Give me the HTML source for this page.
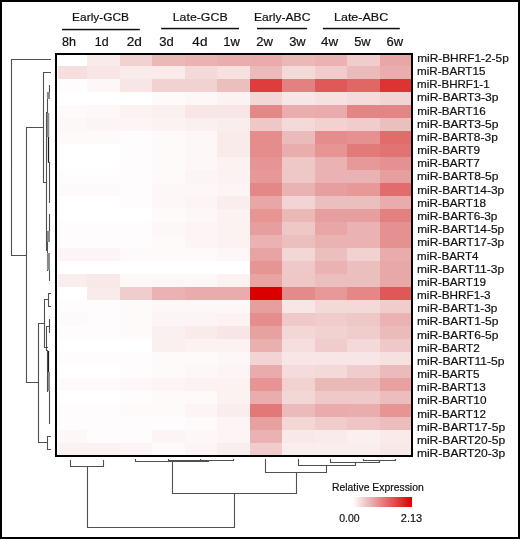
<!DOCTYPE html>
<html><head><meta charset="utf-8"><style>
html,body{margin:0;padding:0;background:#fff}
.f{position:relative;width:520px;height:539px;box-sizing:border-box;border:2px solid #000;background:#fff}
svg{position:absolute;left:-2px;top:-2px;will-change:transform}
text{font-family:"Liberation Sans",sans-serif;fill:#111;stroke:#111;stroke-width:0.2px}
</style></head><body><div class="f">
<svg width="520" height="539" viewBox="0 0 520 539" shape-rendering="crispEdges">
<g><rect x="54.5" y="53" width="33.1" height="14" fill="#ffffff"/><rect x="87.0" y="53" width="33.1" height="14" fill="#faebeb"/><rect x="119.5" y="53" width="33.1" height="14" fill="#f2d1d1"/><rect x="152.0" y="53" width="33.1" height="14" fill="#ebb8b8"/><rect x="184.5" y="53" width="33.1" height="14" fill="#eab2b2"/><rect x="217.0" y="53" width="33.1" height="14" fill="#e9adad"/><rect x="249.5" y="53" width="33.1" height="14" fill="#e9abab"/><rect x="282.0" y="53" width="33.1" height="14" fill="#ebb8b8"/><rect x="314.5" y="53" width="33.1" height="14" fill="#eab2b2"/><rect x="347.0" y="53" width="33.1" height="14" fill="#f0cccc"/><rect x="379.5" y="53" width="33.1" height="14" fill="#e8a6a6"/><rect x="54.5" y="66" width="33.1" height="14" fill="#f6dede"/><rect x="87.0" y="66" width="33.1" height="14" fill="#f8e6e6"/><rect x="119.5" y="66" width="33.1" height="14" fill="#faebeb"/><rect x="152.0" y="66" width="33.1" height="14" fill="#faebeb"/><rect x="184.5" y="66" width="33.1" height="14" fill="#f4d9d9"/><rect x="217.0" y="66" width="33.1" height="14" fill="#f6e0e0"/><rect x="249.5" y="66" width="33.1" height="14" fill="#ebbaba"/><rect x="282.0" y="66" width="33.1" height="14" fill="#f4d9d9"/><rect x="314.5" y="66" width="33.1" height="14" fill="#f0cccc"/><rect x="347.0" y="66" width="33.1" height="14" fill="#ebbaba"/><rect x="379.5" y="66" width="33.1" height="14" fill="#e9adad"/><rect x="54.5" y="79" width="33.1" height="14" fill="#fefcfc"/><rect x="87.0" y="79" width="33.1" height="14" fill="#fdf7f7"/><rect x="119.5" y="79" width="33.1" height="14" fill="#f8e6e6"/><rect x="152.0" y="79" width="33.1" height="14" fill="#f2d1d1"/><rect x="184.5" y="79" width="33.1" height="14" fill="#f2d1d1"/><rect x="217.0" y="79" width="33.1" height="14" fill="#ecbfbf"/><rect x="249.5" y="79" width="33.1" height="14" fill="#df3d3d"/><rect x="282.0" y="79" width="33.1" height="14" fill="#e38080"/><rect x="314.5" y="79" width="33.1" height="14" fill="#e05959"/><rect x="347.0" y="79" width="33.1" height="14" fill="#e16666"/><rect x="379.5" y="79" width="33.1" height="14" fill="#de3333"/><rect x="54.5" y="92" width="33.1" height="14" fill="#ffffff"/><rect x="87.0" y="92" width="33.1" height="14" fill="#ffffff"/><rect x="119.5" y="92" width="33.1" height="14" fill="#ffffff"/><rect x="152.0" y="92" width="33.1" height="14" fill="#fefafa"/><rect x="184.5" y="92" width="33.1" height="14" fill="#fdf7f7"/><rect x="217.0" y="92" width="33.1" height="14" fill="#fcf2f2"/><rect x="249.5" y="92" width="33.1" height="14" fill="#f3d6d6"/><rect x="282.0" y="92" width="33.1" height="14" fill="#f8e6e6"/><rect x="314.5" y="92" width="33.1" height="14" fill="#f6e0e0"/><rect x="347.0" y="92" width="33.1" height="14" fill="#f5dbdb"/><rect x="379.5" y="92" width="33.1" height="14" fill="#f2d4d4"/><rect x="54.5" y="105" width="33.1" height="14" fill="#fefafa"/><rect x="87.0" y="105" width="33.1" height="14" fill="#fdf7f7"/><rect x="119.5" y="105" width="33.1" height="14" fill="#fcf2f2"/><rect x="152.0" y="105" width="33.1" height="14" fill="#fbf0f0"/><rect x="184.5" y="105" width="33.1" height="14" fill="#f8e6e6"/><rect x="217.0" y="105" width="33.1" height="14" fill="#f8e6e6"/><rect x="249.5" y="105" width="33.1" height="14" fill="#e48787"/><rect x="282.0" y="105" width="33.1" height="14" fill="#e9adad"/><rect x="314.5" y="105" width="33.1" height="14" fill="#e9abab"/><rect x="347.0" y="105" width="33.1" height="14" fill="#e48585"/><rect x="379.5" y="105" width="33.1" height="14" fill="#e48585"/><rect x="54.5" y="118" width="33.1" height="14" fill="#fdf7f7"/><rect x="87.0" y="118" width="33.1" height="14" fill="#fdf5f5"/><rect x="119.5" y="118" width="33.1" height="14" fill="#fdf5f5"/><rect x="152.0" y="118" width="33.1" height="14" fill="#fcf2f2"/><rect x="184.5" y="118" width="33.1" height="14" fill="#fbf0f0"/><rect x="217.0" y="118" width="33.1" height="14" fill="#faeded"/><rect x="249.5" y="118" width="33.1" height="14" fill="#eec7c7"/><rect x="282.0" y="118" width="33.1" height="14" fill="#f4d9d9"/><rect x="314.5" y="118" width="33.1" height="14" fill="#f2d1d1"/><rect x="347.0" y="118" width="33.1" height="14" fill="#f0cccc"/><rect x="379.5" y="118" width="33.1" height="14" fill="#ecbfbf"/><rect x="54.5" y="131" width="33.1" height="14" fill="#fefafa"/><rect x="87.0" y="131" width="33.1" height="14" fill="#fefafa"/><rect x="119.5" y="131" width="33.1" height="14" fill="#fefcfc"/><rect x="152.0" y="131" width="33.1" height="14" fill="#fefafa"/><rect x="184.5" y="131" width="33.1" height="14" fill="#fdf7f7"/><rect x="217.0" y="131" width="33.1" height="14" fill="#faebeb"/><rect x="249.5" y="131" width="33.1" height="14" fill="#e58c8c"/><rect x="282.0" y="131" width="33.1" height="14" fill="#ebbaba"/><rect x="314.5" y="131" width="33.1" height="14" fill="#e58c8c"/><rect x="347.0" y="131" width="33.1" height="14" fill="#e69191"/><rect x="379.5" y="131" width="33.1" height="14" fill="#e26b6b"/><rect x="54.5" y="144" width="33.1" height="14" fill="#ffffff"/><rect x="87.0" y="144" width="33.1" height="14" fill="#ffffff"/><rect x="119.5" y="144" width="33.1" height="14" fill="#fefcfc"/><rect x="152.0" y="144" width="33.1" height="14" fill="#fefafa"/><rect x="184.5" y="144" width="33.1" height="14" fill="#fdf7f7"/><rect x="217.0" y="144" width="33.1" height="14" fill="#faebeb"/><rect x="249.5" y="144" width="33.1" height="14" fill="#e58c8c"/><rect x="282.0" y="144" width="33.1" height="14" fill="#e9adad"/><rect x="314.5" y="144" width="33.1" height="14" fill="#e69494"/><rect x="347.0" y="144" width="33.1" height="14" fill="#e37a7a"/><rect x="379.5" y="144" width="33.1" height="14" fill="#e27373"/><rect x="54.5" y="157" width="33.1" height="14" fill="#ffffff"/><rect x="87.0" y="157" width="33.1" height="14" fill="#ffffff"/><rect x="119.5" y="157" width="33.1" height="14" fill="#fefcfc"/><rect x="152.0" y="157" width="33.1" height="14" fill="#fefafa"/><rect x="184.5" y="157" width="33.1" height="14" fill="#fdf7f7"/><rect x="217.0" y="157" width="33.1" height="14" fill="#fcf2f2"/><rect x="249.5" y="157" width="33.1" height="14" fill="#e69494"/><rect x="282.0" y="157" width="33.1" height="14" fill="#eec7c7"/><rect x="314.5" y="157" width="33.1" height="14" fill="#eab2b2"/><rect x="347.0" y="157" width="33.1" height="14" fill="#e79999"/><rect x="379.5" y="157" width="33.1" height="14" fill="#e69191"/><rect x="54.5" y="170" width="33.1" height="14" fill="#fefcfc"/><rect x="87.0" y="170" width="33.1" height="14" fill="#fefcfc"/><rect x="119.5" y="170" width="33.1" height="14" fill="#fefcfc"/><rect x="152.0" y="170" width="33.1" height="14" fill="#fefafa"/><rect x="184.5" y="170" width="33.1" height="14" fill="#fdf5f5"/><rect x="217.0" y="170" width="33.1" height="14" fill="#fcf2f2"/><rect x="249.5" y="170" width="33.1" height="14" fill="#e79999"/><rect x="282.0" y="170" width="33.1" height="14" fill="#eec7c7"/><rect x="314.5" y="170" width="33.1" height="14" fill="#eab2b2"/><rect x="347.0" y="170" width="33.1" height="14" fill="#eab2b2"/><rect x="379.5" y="170" width="33.1" height="14" fill="#e79e9e"/><rect x="54.5" y="183" width="33.1" height="14" fill="#fefafa"/><rect x="87.0" y="183" width="33.1" height="14" fill="#fefafa"/><rect x="119.5" y="183" width="33.1" height="14" fill="#fefcfc"/><rect x="152.0" y="183" width="33.1" height="14" fill="#fdf7f7"/><rect x="184.5" y="183" width="33.1" height="14" fill="#fdf7f7"/><rect x="217.0" y="183" width="33.1" height="14" fill="#fdf5f5"/><rect x="249.5" y="183" width="33.1" height="14" fill="#e48787"/><rect x="282.0" y="183" width="33.1" height="14" fill="#eab2b2"/><rect x="314.5" y="183" width="33.1" height="14" fill="#e79e9e"/><rect x="347.0" y="183" width="33.1" height="14" fill="#e79999"/><rect x="379.5" y="183" width="33.1" height="14" fill="#e26b6b"/><rect x="54.5" y="196" width="33.1" height="14" fill="#ffffff"/><rect x="87.0" y="196" width="33.1" height="14" fill="#ffffff"/><rect x="119.5" y="196" width="33.1" height="14" fill="#fefcfc"/><rect x="152.0" y="196" width="33.1" height="14" fill="#fdf7f7"/><rect x="184.5" y="196" width="33.1" height="14" fill="#fdf5f5"/><rect x="217.0" y="196" width="33.1" height="14" fill="#faeded"/><rect x="249.5" y="196" width="33.1" height="14" fill="#e8a6a6"/><rect x="282.0" y="196" width="33.1" height="14" fill="#f2d4d4"/><rect x="314.5" y="196" width="33.1" height="14" fill="#ecbfbf"/><rect x="347.0" y="196" width="33.1" height="14" fill="#ecbfbf"/><rect x="379.5" y="196" width="33.1" height="14" fill="#e9abab"/><rect x="54.5" y="209" width="33.1" height="14" fill="#ffffff"/><rect x="87.0" y="209" width="33.1" height="14" fill="#ffffff"/><rect x="119.5" y="209" width="33.1" height="14" fill="#ffffff"/><rect x="152.0" y="209" width="33.1" height="14" fill="#fefafa"/><rect x="184.5" y="209" width="33.1" height="14" fill="#fdf7f7"/><rect x="217.0" y="209" width="33.1" height="14" fill="#fcf2f2"/><rect x="249.5" y="209" width="33.1" height="14" fill="#e69494"/><rect x="282.0" y="209" width="33.1" height="14" fill="#ebb8b8"/><rect x="314.5" y="209" width="33.1" height="14" fill="#e79e9e"/><rect x="347.0" y="209" width="33.1" height="14" fill="#e79e9e"/><rect x="379.5" y="209" width="33.1" height="14" fill="#e38080"/><rect x="54.5" y="222" width="33.1" height="14" fill="#fefcfc"/><rect x="87.0" y="222" width="33.1" height="14" fill="#fefcfc"/><rect x="119.5" y="222" width="33.1" height="14" fill="#fefcfc"/><rect x="152.0" y="222" width="33.1" height="14" fill="#fdf7f7"/><rect x="184.5" y="222" width="33.1" height="14" fill="#fdf5f5"/><rect x="217.0" y="222" width="33.1" height="14" fill="#fcf2f2"/><rect x="249.5" y="222" width="33.1" height="14" fill="#e79e9e"/><rect x="282.0" y="222" width="33.1" height="14" fill="#eec7c7"/><rect x="314.5" y="222" width="33.1" height="14" fill="#e8a6a6"/><rect x="347.0" y="222" width="33.1" height="14" fill="#eab2b2"/><rect x="379.5" y="222" width="33.1" height="14" fill="#e69191"/><rect x="54.5" y="235" width="33.1" height="14" fill="#fefcfc"/><rect x="87.0" y="235" width="33.1" height="14" fill="#fefcfc"/><rect x="119.5" y="235" width="33.1" height="14" fill="#fefcfc"/><rect x="152.0" y="235" width="33.1" height="14" fill="#fefafa"/><rect x="184.5" y="235" width="33.1" height="14" fill="#fdf5f5"/><rect x="217.0" y="235" width="33.1" height="14" fill="#fcf2f2"/><rect x="249.5" y="235" width="33.1" height="14" fill="#eab2b2"/><rect x="282.0" y="235" width="33.1" height="14" fill="#ecbfbf"/><rect x="314.5" y="235" width="33.1" height="14" fill="#eab2b2"/><rect x="347.0" y="235" width="33.1" height="14" fill="#eab2b2"/><rect x="379.5" y="235" width="33.1" height="14" fill="#e69191"/><rect x="54.5" y="248" width="33.1" height="14" fill="#fdf5f5"/><rect x="87.0" y="248" width="33.1" height="14" fill="#fdf5f5"/><rect x="119.5" y="248" width="33.1" height="14" fill="#fefafa"/><rect x="152.0" y="248" width="33.1" height="14" fill="#fefafa"/><rect x="184.5" y="248" width="33.1" height="14" fill="#fefafa"/><rect x="217.0" y="248" width="33.1" height="14" fill="#fdf7f7"/><rect x="249.5" y="248" width="33.1" height="14" fill="#e8a3a3"/><rect x="282.0" y="248" width="33.1" height="14" fill="#f3d6d6"/><rect x="314.5" y="248" width="33.1" height="14" fill="#ecbfbf"/><rect x="347.0" y="248" width="33.1" height="14" fill="#f2d1d1"/><rect x="379.5" y="248" width="33.1" height="14" fill="#e9abab"/><rect x="54.5" y="261" width="33.1" height="14" fill="#ffffff"/><rect x="87.0" y="261" width="33.1" height="14" fill="#ffffff"/><rect x="119.5" y="261" width="33.1" height="14" fill="#ffffff"/><rect x="152.0" y="261" width="33.1" height="14" fill="#ffffff"/><rect x="184.5" y="261" width="33.1" height="14" fill="#ffffff"/><rect x="217.0" y="261" width="33.1" height="14" fill="#ffffff"/><rect x="249.5" y="261" width="33.1" height="14" fill="#e69494"/><rect x="282.0" y="261" width="33.1" height="14" fill="#efc9c9"/><rect x="314.5" y="261" width="33.1" height="14" fill="#eab2b2"/><rect x="347.0" y="261" width="33.1" height="14" fill="#ecbfbf"/><rect x="379.5" y="261" width="33.1" height="14" fill="#e9a8a8"/><rect x="54.5" y="274" width="33.1" height="14" fill="#faeded"/><rect x="87.0" y="274" width="33.1" height="14" fill="#f9e8e8"/><rect x="119.5" y="274" width="33.1" height="14" fill="#fdf7f7"/><rect x="152.0" y="274" width="33.1" height="14" fill="#fdf7f7"/><rect x="184.5" y="274" width="33.1" height="14" fill="#fdf7f7"/><rect x="217.0" y="274" width="33.1" height="14" fill="#fcf2f2"/><rect x="249.5" y="274" width="33.1" height="14" fill="#e8a3a3"/><rect x="282.0" y="274" width="33.1" height="14" fill="#eec7c7"/><rect x="314.5" y="274" width="33.1" height="14" fill="#ecbfbf"/><rect x="347.0" y="274" width="33.1" height="14" fill="#ecbfbf"/><rect x="379.5" y="274" width="33.1" height="14" fill="#e9a8a8"/><rect x="54.5" y="287" width="33.1" height="14" fill="#ffffff"/><rect x="87.0" y="287" width="33.1" height="14" fill="#faebeb"/><rect x="119.5" y="287" width="33.1" height="14" fill="#f0cccc"/><rect x="152.0" y="287" width="33.1" height="14" fill="#eab2b2"/><rect x="184.5" y="287" width="33.1" height="14" fill="#e9abab"/><rect x="217.0" y="287" width="33.1" height="14" fill="#e9abab"/><rect x="249.5" y="287" width="33.1" height="14" fill="#da0000"/><rect x="282.0" y="287" width="33.1" height="14" fill="#e48a8a"/><rect x="314.5" y="287" width="33.1" height="14" fill="#e79999"/><rect x="347.0" y="287" width="33.1" height="14" fill="#e48787"/><rect x="379.5" y="287" width="33.1" height="14" fill="#e05757"/><rect x="54.5" y="300" width="33.1" height="14" fill="#fefcfc"/><rect x="87.0" y="300" width="33.1" height="14" fill="#fefcfc"/><rect x="119.5" y="300" width="33.1" height="14" fill="#fefafa"/><rect x="152.0" y="300" width="33.1" height="14" fill="#fdf7f7"/><rect x="184.5" y="300" width="33.1" height="14" fill="#fdf7f7"/><rect x="217.0" y="300" width="33.1" height="14" fill="#fdf7f7"/><rect x="249.5" y="300" width="33.1" height="14" fill="#e79e9e"/><rect x="282.0" y="300" width="33.1" height="14" fill="#f8e6e6"/><rect x="314.5" y="300" width="33.1" height="14" fill="#f4d9d9"/><rect x="347.0" y="300" width="33.1" height="14" fill="#f4d9d9"/><rect x="379.5" y="300" width="33.1" height="14" fill="#f0cccc"/><rect x="54.5" y="313" width="33.1" height="14" fill="#fefafa"/><rect x="87.0" y="313" width="33.1" height="14" fill="#fefcfc"/><rect x="119.5" y="313" width="33.1" height="14" fill="#fefafa"/><rect x="152.0" y="313" width="33.1" height="14" fill="#fdf5f5"/><rect x="184.5" y="313" width="33.1" height="14" fill="#fdf5f5"/><rect x="217.0" y="313" width="33.1" height="14" fill="#fcf2f2"/><rect x="249.5" y="313" width="33.1" height="14" fill="#e58c8c"/><rect x="282.0" y="313" width="33.1" height="14" fill="#efc9c9"/><rect x="314.5" y="313" width="33.1" height="14" fill="#f0cccc"/><rect x="347.0" y="313" width="33.1" height="14" fill="#eec7c7"/><rect x="379.5" y="313" width="33.1" height="14" fill="#eab2b2"/><rect x="54.5" y="326" width="33.1" height="14" fill="#fefcfc"/><rect x="87.0" y="326" width="33.1" height="14" fill="#fefcfc"/><rect x="119.5" y="326" width="33.1" height="14" fill="#fefafa"/><rect x="152.0" y="326" width="33.1" height="14" fill="#fbf0f0"/><rect x="184.5" y="326" width="33.1" height="14" fill="#faebeb"/><rect x="217.0" y="326" width="33.1" height="14" fill="#f8e6e6"/><rect x="249.5" y="326" width="33.1" height="14" fill="#e8a1a1"/><rect x="282.0" y="326" width="33.1" height="14" fill="#f3d6d6"/><rect x="314.5" y="326" width="33.1" height="14" fill="#f2d1d1"/><rect x="347.0" y="326" width="33.1" height="14" fill="#f0cccc"/><rect x="379.5" y="326" width="33.1" height="14" fill="#ebbaba"/><rect x="54.5" y="339" width="33.1" height="14" fill="#ffffff"/><rect x="87.0" y="339" width="33.1" height="14" fill="#ffffff"/><rect x="119.5" y="339" width="33.1" height="14" fill="#ffffff"/><rect x="152.0" y="339" width="33.1" height="14" fill="#fbf0f0"/><rect x="184.5" y="339" width="33.1" height="14" fill="#fcf2f2"/><rect x="217.0" y="339" width="33.1" height="14" fill="#fcf2f2"/><rect x="249.5" y="339" width="33.1" height="14" fill="#eab0b0"/><rect x="282.0" y="339" width="33.1" height="14" fill="#f6dede"/><rect x="314.5" y="339" width="33.1" height="14" fill="#f0cccc"/><rect x="347.0" y="339" width="33.1" height="14" fill="#f4d9d9"/><rect x="379.5" y="339" width="33.1" height="14" fill="#efc9c9"/><rect x="54.5" y="352" width="33.1" height="14" fill="#fefcfc"/><rect x="87.0" y="352" width="33.1" height="14" fill="#fefcfc"/><rect x="119.5" y="352" width="33.1" height="14" fill="#fefcfc"/><rect x="152.0" y="352" width="33.1" height="14" fill="#fefafa"/><rect x="184.5" y="352" width="33.1" height="14" fill="#fefafa"/><rect x="217.0" y="352" width="33.1" height="14" fill="#fdf7f7"/><rect x="249.5" y="352" width="33.1" height="14" fill="#f2d4d4"/><rect x="282.0" y="352" width="33.1" height="14" fill="#f8e6e6"/><rect x="314.5" y="352" width="33.1" height="14" fill="#f8e6e6"/><rect x="347.0" y="352" width="33.1" height="14" fill="#f8e6e6"/><rect x="379.5" y="352" width="33.1" height="14" fill="#f6e0e0"/><rect x="54.5" y="365" width="33.1" height="14" fill="#ffffff"/><rect x="87.0" y="365" width="33.1" height="14" fill="#ffffff"/><rect x="119.5" y="365" width="33.1" height="14" fill="#fefcfc"/><rect x="152.0" y="365" width="33.1" height="14" fill="#fefafa"/><rect x="184.5" y="365" width="33.1" height="14" fill="#fdf7f7"/><rect x="217.0" y="365" width="33.1" height="14" fill="#fdf5f5"/><rect x="249.5" y="365" width="33.1" height="14" fill="#e9abab"/><rect x="282.0" y="365" width="33.1" height="14" fill="#f5dbdb"/><rect x="314.5" y="365" width="33.1" height="14" fill="#f4d9d9"/><rect x="347.0" y="365" width="33.1" height="14" fill="#f0cccc"/><rect x="379.5" y="365" width="33.1" height="14" fill="#ebbaba"/><rect x="54.5" y="378" width="33.1" height="14" fill="#fefafa"/><rect x="87.0" y="378" width="33.1" height="14" fill="#fefafa"/><rect x="119.5" y="378" width="33.1" height="14" fill="#fdf7f7"/><rect x="152.0" y="378" width="33.1" height="14" fill="#fdf5f5"/><rect x="184.5" y="378" width="33.1" height="14" fill="#fcf2f2"/><rect x="217.0" y="378" width="33.1" height="14" fill="#fcf2f2"/><rect x="249.5" y="378" width="33.1" height="14" fill="#e69494"/><rect x="282.0" y="378" width="33.1" height="14" fill="#f2d1d1"/><rect x="314.5" y="378" width="33.1" height="14" fill="#ebb8b8"/><rect x="347.0" y="378" width="33.1" height="14" fill="#ebb8b8"/><rect x="379.5" y="378" width="33.1" height="14" fill="#e8a1a1"/><rect x="54.5" y="391" width="33.1" height="14" fill="#ffffff"/><rect x="87.0" y="391" width="33.1" height="14" fill="#ffffff"/><rect x="119.5" y="391" width="33.1" height="14" fill="#fefcfc"/><rect x="152.0" y="391" width="33.1" height="14" fill="#fefafa"/><rect x="184.5" y="391" width="33.1" height="14" fill="#fefafa"/><rect x="217.0" y="391" width="33.1" height="14" fill="#fcf2f2"/><rect x="249.5" y="391" width="33.1" height="14" fill="#e9adad"/><rect x="282.0" y="391" width="33.1" height="14" fill="#f3d6d6"/><rect x="314.5" y="391" width="33.1" height="14" fill="#efc9c9"/><rect x="347.0" y="391" width="33.1" height="14" fill="#efc9c9"/><rect x="379.5" y="391" width="33.1" height="14" fill="#ecbdbd"/><rect x="54.5" y="404" width="33.1" height="14" fill="#fefcfc"/><rect x="87.0" y="404" width="33.1" height="14" fill="#fefcfc"/><rect x="119.5" y="404" width="33.1" height="14" fill="#fefafa"/><rect x="152.0" y="404" width="33.1" height="14" fill="#fefafa"/><rect x="184.5" y="404" width="33.1" height="14" fill="#fdf5f5"/><rect x="217.0" y="404" width="33.1" height="14" fill="#faeded"/><rect x="249.5" y="404" width="33.1" height="14" fill="#e27878"/><rect x="282.0" y="404" width="33.1" height="14" fill="#ebbaba"/><rect x="314.5" y="404" width="33.1" height="14" fill="#e9abab"/><rect x="347.0" y="404" width="33.1" height="14" fill="#e9adad"/><rect x="379.5" y="404" width="33.1" height="14" fill="#e69494"/><rect x="54.5" y="417" width="33.1" height="14" fill="#fefcfc"/><rect x="87.0" y="417" width="33.1" height="14" fill="#fefcfc"/><rect x="119.5" y="417" width="33.1" height="14" fill="#fefcfc"/><rect x="152.0" y="417" width="33.1" height="14" fill="#fefcfc"/><rect x="184.5" y="417" width="33.1" height="14" fill="#fefafa"/><rect x="217.0" y="417" width="33.1" height="14" fill="#fdf5f5"/><rect x="249.5" y="417" width="33.1" height="14" fill="#e8a1a1"/><rect x="282.0" y="417" width="33.1" height="14" fill="#f3d6d6"/><rect x="314.5" y="417" width="33.1" height="14" fill="#f0cccc"/><rect x="347.0" y="417" width="33.1" height="14" fill="#eec4c4"/><rect x="379.5" y="417" width="33.1" height="14" fill="#ecbdbd"/><rect x="54.5" y="430" width="33.1" height="14" fill="#fdf7f7"/><rect x="87.0" y="430" width="33.1" height="14" fill="#fefcfc"/><rect x="119.5" y="430" width="33.1" height="14" fill="#fefcfc"/><rect x="152.0" y="430" width="33.1" height="14" fill="#fdf5f5"/><rect x="184.5" y="430" width="33.1" height="14" fill="#fdf7f7"/><rect x="217.0" y="430" width="33.1" height="14" fill="#fdf5f5"/><rect x="249.5" y="430" width="33.1" height="14" fill="#eab2b2"/><rect x="282.0" y="430" width="33.1" height="14" fill="#f9e8e8"/><rect x="314.5" y="430" width="33.1" height="14" fill="#faebeb"/><rect x="347.0" y="430" width="33.1" height="14" fill="#fbf0f0"/><rect x="379.5" y="430" width="33.1" height="14" fill="#faebeb"/><rect x="54.5" y="443" width="33.1" height="14" fill="#fcf2f2"/><rect x="87.0" y="443" width="33.1" height="14" fill="#fcf2f2"/><rect x="119.5" y="443" width="33.1" height="14" fill="#fdf5f5"/><rect x="152.0" y="443" width="33.1" height="14" fill="#fefafa"/><rect x="184.5" y="443" width="33.1" height="14" fill="#fdf5f5"/><rect x="217.0" y="443" width="33.1" height="14" fill="#faeded"/><rect x="249.5" y="443" width="33.1" height="14" fill="#f0cccc"/><rect x="282.0" y="443" width="33.1" height="14" fill="#faeded"/><rect x="314.5" y="443" width="33.1" height="14" fill="#faeded"/><rect x="347.0" y="443" width="33.1" height="14" fill="#faeded"/><rect x="379.5" y="443" width="33.1" height="14" fill="#f9e8e8"/></g>
<rect x="57" y="55" width="1" height="400" fill="#fff"/>
<rect x="56" y="54" width="356" height="402" fill="none" stroke="#000" stroke-width="2"/>
<g><text x="417.15" y="61.80" font-size="11.30" textLength="91.60" lengthAdjust="spacingAndGlyphs">miR-BHRF1-2-5p</text><text x="417.05" y="74.98" font-size="11.30" textLength="68.38" lengthAdjust="spacingAndGlyphs">miR-BART15</text><text x="417.06" y="88.16" font-size="11.30" textLength="72.59" lengthAdjust="spacingAndGlyphs">miR-BHRF1-1</text><text x="416.92" y="101.34" font-size="11.30" textLength="81.65" lengthAdjust="spacingAndGlyphs">miR-BART3-3p</text><text x="417.21" y="114.52" font-size="11.30" textLength="68.47" lengthAdjust="spacingAndGlyphs">miR-BART16</text><text x="416.92" y="127.70" font-size="11.30" textLength="81.65" lengthAdjust="spacingAndGlyphs">miR-BART3-5p</text><text x="416.95" y="140.88" font-size="11.30" textLength="80.88" lengthAdjust="spacingAndGlyphs">miR-BART8-3p</text><text x="417.17" y="154.06" font-size="11.30" textLength="62.99" lengthAdjust="spacingAndGlyphs">miR-BART9</text><text x="417.18" y="167.24" font-size="11.30" textLength="62.54" lengthAdjust="spacingAndGlyphs">miR-BART7</text><text x="416.92" y="180.42" font-size="11.30" textLength="81.65" lengthAdjust="spacingAndGlyphs">miR-BART8-5p</text><text x="417.21" y="193.60" font-size="11.30" textLength="86.92" lengthAdjust="spacingAndGlyphs">miR-BART14-3p</text><text x="417.19" y="206.78" font-size="11.30" textLength="68.84" lengthAdjust="spacingAndGlyphs">miR-BART18</text><text x="417.17" y="219.96" font-size="11.30" textLength="80.29" lengthAdjust="spacingAndGlyphs">miR-BART6-3p</text><text x="417.21" y="233.14" font-size="11.30" textLength="86.92" lengthAdjust="spacingAndGlyphs">miR-BART14-5p</text><text x="417.21" y="246.32" font-size="11.30" textLength="86.92" lengthAdjust="spacingAndGlyphs">miR-BART17-3p</text><text x="417.06" y="259.50" font-size="11.30" textLength="61.41" lengthAdjust="spacingAndGlyphs">miR-BART4</text><text x="416.90" y="272.68" font-size="11.30" textLength="87.20" lengthAdjust="spacingAndGlyphs">miR-BART11-3p</text><text x="417.19" y="285.86" font-size="11.30" textLength="68.85" lengthAdjust="spacingAndGlyphs">miR-BART19</text><text x="417.04" y="299.04" font-size="11.30" textLength="73.53" lengthAdjust="spacingAndGlyphs">miR-BHRF1-3</text><text x="417.17" y="312.22" font-size="11.30" textLength="80.29" lengthAdjust="spacingAndGlyphs">miR-BART1-3p</text><text x="416.92" y="325.40" font-size="11.30" textLength="81.44" lengthAdjust="spacingAndGlyphs">miR-BART1-5p</text><text x="416.92" y="338.58" font-size="11.30" textLength="81.44" lengthAdjust="spacingAndGlyphs">miR-BART6-5p</text><text x="417.19" y="351.76" font-size="11.30" textLength="62.54" lengthAdjust="spacingAndGlyphs">miR-BART2</text><text x="416.90" y="364.94" font-size="11.30" textLength="87.51" lengthAdjust="spacingAndGlyphs">miR-BART11-5p</text><text x="417.19" y="378.12" font-size="11.30" textLength="62.29" lengthAdjust="spacingAndGlyphs">miR-BART5</text><text x="417.04" y="391.30" font-size="11.30" textLength="68.87" lengthAdjust="spacingAndGlyphs">miR-BART13</text><text x="417.17" y="404.48" font-size="11.30" textLength="69.34" lengthAdjust="spacingAndGlyphs">miR-BART10</text><text x="417.19" y="417.66" font-size="11.30" textLength="68.78" lengthAdjust="spacingAndGlyphs">miR-BART12</text><text x="416.90" y="430.84" font-size="11.30" textLength="88.26" lengthAdjust="spacingAndGlyphs">miR-BART17-5p</text><text x="416.90" y="444.02" font-size="11.30" textLength="88.26" lengthAdjust="spacingAndGlyphs">miR-BART20-5p</text><text x="416.90" y="457.20" font-size="11.30" textLength="88.26" lengthAdjust="spacingAndGlyphs">miR-BART20-3p</text></g>
<g><text x="62.04" y="45.50" font-size="12.00" textLength="13.95" lengthAdjust="spacingAndGlyphs">8h</text><text x="94.87" y="45.50" font-size="12.00" textLength="13.85" lengthAdjust="spacingAndGlyphs">1d</text><text x="126.66" y="45.50" font-size="12.00" textLength="15.21" lengthAdjust="spacingAndGlyphs">2d</text><text x="159.36" y="45.50" font-size="12.00" textLength="14.51" lengthAdjust="spacingAndGlyphs">3d</text><text x="192.37" y="45.50" font-size="12.00" textLength="15.05" lengthAdjust="spacingAndGlyphs">4d</text><text x="223.35" y="45.50" font-size="12.00" textLength="16.65" lengthAdjust="spacingAndGlyphs">1w</text><text x="256.27" y="45.50" font-size="12.00" textLength="16.69" lengthAdjust="spacingAndGlyphs">2w</text><text x="289.19" y="45.50" font-size="12.00" textLength="16.51" lengthAdjust="spacingAndGlyphs">3w</text><text x="321.11" y="45.50" font-size="12.00" textLength="17.05" lengthAdjust="spacingAndGlyphs">4w</text><text x="354.23" y="45.50" font-size="12.00" textLength="16.41" lengthAdjust="spacingAndGlyphs">5w</text><text x="386.44" y="45.50" font-size="12.00" textLength="16.55" lengthAdjust="spacingAndGlyphs">6w</text></g>
<text x="72.12" y="21.40" font-size="11.80" textLength="56.94" lengthAdjust="spacingAndGlyphs">Early-GCB</text><rect x="62.0" y="28.8" width="77.8" height="1.5" fill="#111" shape-rendering="auto"/><text x="172.72" y="21.40" font-size="11.80" textLength="54.91" lengthAdjust="spacingAndGlyphs">Late-GCB</text><rect x="161.1" y="27.8" width="77.9" height="1.5" fill="#111" shape-rendering="auto"/><text x="253.92" y="21.40" font-size="11.80" textLength="56.51" lengthAdjust="spacingAndGlyphs">Early-ABC</text><rect x="257.0" y="27.8" width="50.1" height="1.5" fill="#111" shape-rendering="auto"/><text x="334.00" y="21.40" font-size="11.80" textLength="54.19" lengthAdjust="spacingAndGlyphs">Late-ABC</text><rect x="323.0" y="27.8" width="76.8" height="1.5" fill="#111" shape-rendering="auto"/>
<defs><linearGradient id="lg" x1="0" x2="1" y1="0" y2="0"><stop offset="0.00" stop-color="#ffffff"/><stop offset="0.10" stop-color="#f8e6e6"/><stop offset="0.20" stop-color="#f0cccc"/><stop offset="0.30" stop-color="#eab2b2"/><stop offset="0.40" stop-color="#e79999"/><stop offset="0.50" stop-color="#e38080"/><stop offset="0.60" stop-color="#e16666"/><stop offset="0.70" stop-color="#e04d4d"/><stop offset="0.80" stop-color="#de3333"/><stop offset="0.90" stop-color="#dc1919"/><stop offset="1.00" stop-color="#da0000"/></linearGradient></defs><rect x="352.5" y="496.5" width="59.5" height="10" fill="url(#lg)"/><text x="331.89" y="491.20" font-size="10.90" textLength="91.85" lengthAdjust="spacingAndGlyphs">Relative Expression</text><text x="339.20" y="521.50" font-size="10.90" textLength="20.44" lengthAdjust="spacingAndGlyphs">0.00</text><text x="400.80" y="521.50" font-size="10.90" textLength="21.32" lengthAdjust="spacingAndGlyphs">2.13</text>
<path d="M11.0 59.5H51.0M11.5 59.0V256.0M11.0 255.5H27.0M26.5 127.0V383.0M26.0 127.5H44.0M26.0 382.5H39.0M43.5 72.0V183.0M43.0 72.5H51.0M43.0 182.5H47.0M46.5 112.0V251.0M46.0 112.5H48.0M46.0 250.5H48.0M49.5 85.0V93.0M47.0 92.5H50.0M47.5 92.0V113.0M48.5 113.0V163.0M49.5 162.0V203.0M49.5 214.0V232.0M47.5 231.0V271.0M49.5 270.0V281.0M48.5 293.0V307.0M48.0 293.5H51.0M48.0 306.5H51.0M44.0 299.5H49.0M44.5 299.0V348.0M38.0 323.5H45.0M44.0 347.5H48.0M49.5 319.0V333.0M46.0 326.5H50.0M46.5 326.0V351.0M47.5 350.0V392.0M49.5 391.0V424.0M38.5 323.0V443.0M38.0 442.5H48.0M47.5 436.0V450.0M47.0 436.5H51.0M47.0 449.5H51.0M70.5 460.0V467.0M103.5 460.0V467.0M70.0 466.5H104.0M168.5 459.0V461.0M200.5 459.0V461.0M168.0 460.5H201.0M184.5 460.0V461.0M233.5 459.0V461.0M184.0 460.5H234.0M135.5 459.0V462.0M208.5 460.0V462.0M135.0 461.5H209.0M363.5 459.0V461.0M395.5 459.0V461.0M363.0 460.5H396.0M330.5 459.0V463.0M379.5 460.0V463.0M330.0 462.5H380.0M298.5 459.0V466.0M355.5 462.0V466.0M298.0 465.5H356.0M265.5 459.0V473.0M326.5 465.0V473.0M265.0 472.5H327.0M172.5 461.0V494.0M296.5 472.0V494.0M172.0 493.5H297.0M87.5 466.0V528.0M234.5 493.0V528.0M87.0 527.5H235.0" fill="none" stroke="#505050" stroke-width="1.1" shape-rendering="auto"/>
<path d="M48.5 113V162M48.5 351V372" stroke="#1a1a1a" stroke-width="1.2" fill="none" shape-rendering="auto"/><rect x="47.4" y="92.0" width="2.1" height="7.0" fill="#8a8a8a"/><rect x="46.5" y="113.0" width="2.2" height="24.0" fill="#8a8a8a"/><rect x="47.3" y="231.0" width="2.2" height="10.5" fill="#8a8a8a"/><rect x="47.3" y="253.0" width="2.2" height="17.0" fill="#8a8a8a"/><rect x="47.7" y="372.0" width="1.8" height="19.4" fill="#8a8a8a"/>
</svg></div></body></html>
